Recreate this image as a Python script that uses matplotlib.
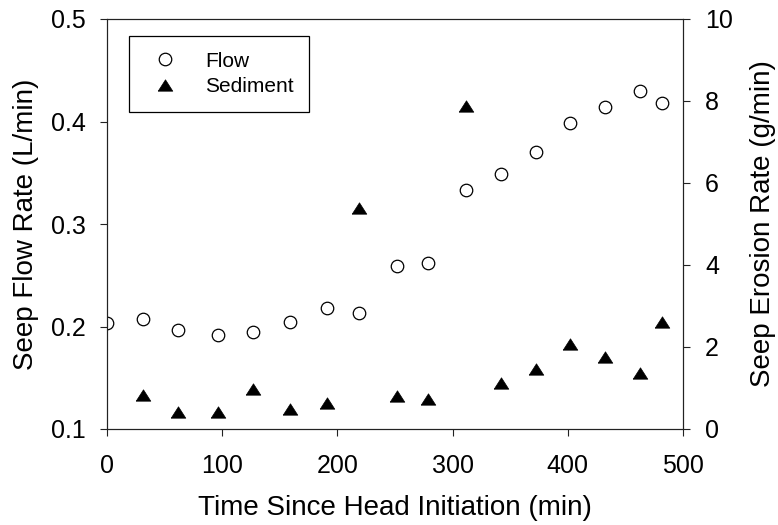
import matplotlib
matplotlib.use("Agg")
import matplotlib.pyplot as plt

plt.rcParams["font.family"] = ["Liberation Sans", "DejaVu Sans"]

# elapsed time of each reading (min)
time_min = [0, 31, 62, 96, 127, 159, 191, 219, 252, 279, 312, 342, 372, 402, 432, 463, 482]
# seep discharge (L/min)
flow_rate = [0.203, 0.207, 0.197, 0.192, 0.195, 0.204, 0.218, 0.2135, 0.259, 0.262,
             0.333, 0.349, 0.370, 0.399, 0.414, 0.430, 0.418]
# sediment loss (g/min); no sample at t = 0
sed_time = time_min[1:]
erosion_rate = [0.83, 0.41, 0.41, 0.98, 0.49, 0.63, 5.38, 0.81, 0.73, 7.88,
                1.12, 1.46, 2.07, 1.76, 1.36, 2.62]

flow_ticks = [0.1, 0.2, 0.3, 0.4, 0.5]
erosion_ticks = [0, 2, 4, 6, 8, 10]
time_ticks = [0, 100, 200, 300, 400, 500]

# flattened triangle for the sediment series
tri = [(-1, -0.78), (1, -0.78), (0, 0.78), (-1, -0.78)]

fig = plt.figure(figsize=(7.78, 5.25), dpi=100)
ax = fig.add_axes([107 / 778, 1 - 429 / 525, (683 - 107) / 778, (429 - 19) / 525])
ax2 = ax.twinx()

h1, = ax.plot(time_min, flow_rate, linestyle="none", marker="o", markersize=9,
              markerfacecolor="white", markeredgecolor="black", markeredgewidth=0.9,
              label="Flow")
h2, = ax2.plot(sed_time, erosion_rate, linestyle="none", marker=tri, markersize=10.5,
               markerfacecolor="black", markeredgecolor="black", markeredgewidth=0.5,
               label="Sediment")

ax.set_xlim(0, 500)
ax.set_ylim(0.1, 0.5)
ax2.set_ylim(0, 10)
ax.set_xticks(time_ticks)
ax.set_yticks(flow_ticks)
ax2.set_yticks(erosion_ticks)
ax.set_yticklabels([f"{v:.1f}" for v in flow_ticks])

for a in (ax, ax2):
    for s in a.spines.values():
        s.set_linewidth(0.8)
        s.set_color("#222222")
    a.tick_params(direction="out", length=5, width=0.8, labelsize=18, pad=10,
                  color="#222222")
ax.tick_params(axis="x", pad=13)
ax2.tick_params(axis="y", pad=11)

ax.set_xlabel("Time Since Head Initiation (min)", fontsize=20, labelpad=12)
ax.set_ylabel("Seep Flow Rate (L/min)", fontsize=20, labelpad=9)
ax2.set_ylabel("Seep Erosion Rate (g/min)", fontsize=20, labelpad=12)

leg = ax2.legend([h1, h2], ["Flow", "Sediment"], loc="upper left",
                 bbox_to_anchor=(129 / 778, 1 - 36 / 525), bbox_transform=fig.transFigure,
                 borderaxespad=0, fontsize=15, fancybox=False, framealpha=1,
                 edgecolor="black", borderpad=0.75, handlelength=2.0,
                 handletextpad=0.9, labelspacing=0.3)
leg.get_frame().set_linewidth(0.9)

fig.savefig("out.png", dpi=100)
